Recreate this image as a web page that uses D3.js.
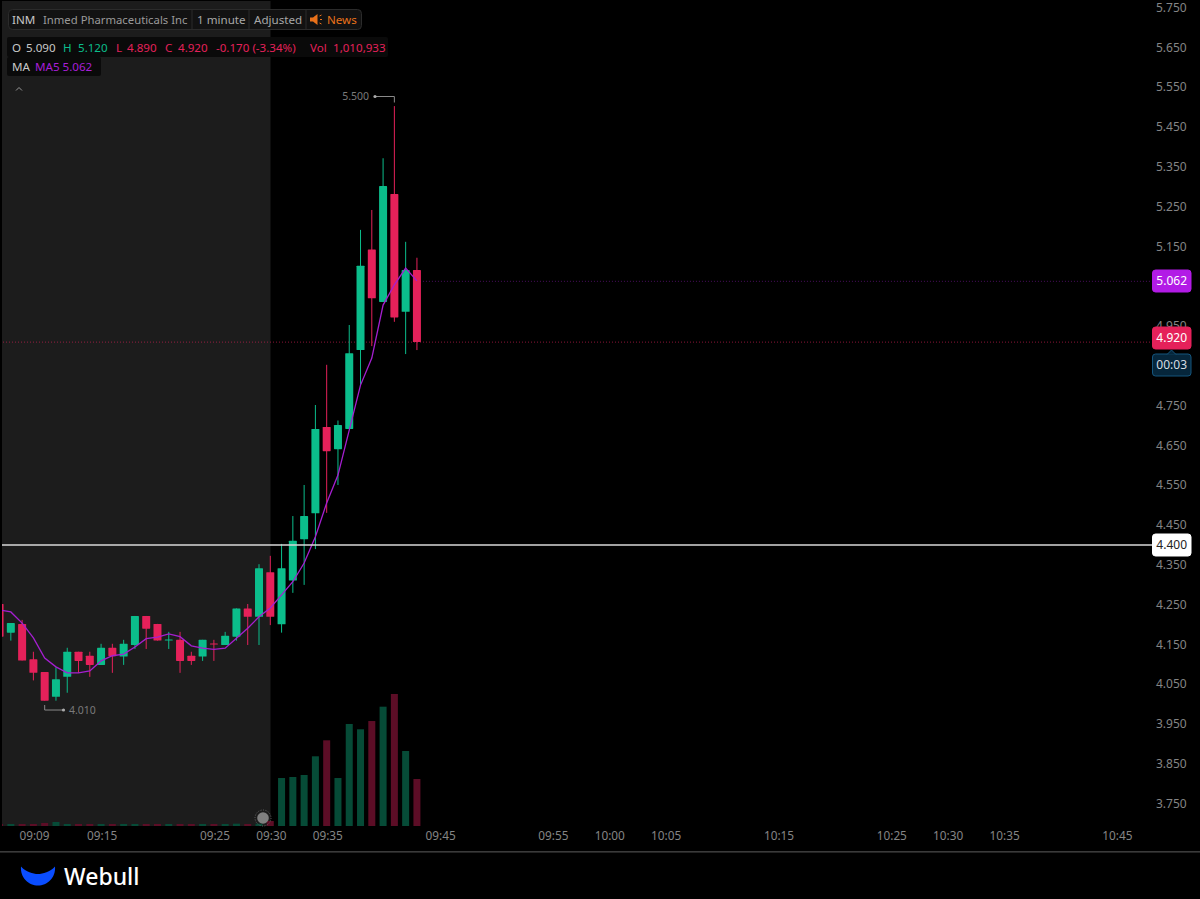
<!DOCTYPE html>
<html><head><meta charset="utf-8">
<script src="https://cdnjs.cloudflare.com/ajax/libs/d3/7.8.5/d3.min.js"></script>
<style>
html,body{margin:0;padding:0;background:#000;overflow:hidden}
svg{display:block}
text{font-family:"Noto Sans","Open Sans",sans-serif}
</style></head><body><svg id="c" width="1200" height="899"></svg>
<script>
// one-minute candles, first candle is 09:06
const firstMinute = 546;
const opens  = [4.250,4.178,4.200,4.111,4.079,4.017,4.067,4.130,4.120,4.097,4.140,4.118,4.147,4.220,4.200,4.158,4.160,4.120,4.118,4.151,4.147,4.168,4.239,4.218,4.330,4.199,4.309,4.413,4.478,4.695,4.639,4.690,4.888,5.141,5.009,5.280,4.984,5.089];
const highs  = [4.250,4.202,4.210,4.130,4.079,4.091,4.140,4.130,4.130,4.150,4.150,4.160,4.220,4.220,4.200,4.180,4.180,4.130,4.160,4.160,4.180,4.239,4.250,4.350,4.371,4.401,4.471,4.549,4.750,4.851,4.711,4.951,5.190,5.240,5.370,5.501,5.160,5.120];
const lows   = [4.168,4.158,4.108,4.058,4.007,4.007,4.027,4.077,4.067,4.097,4.077,4.097,4.137,4.137,4.158,4.137,4.077,4.097,4.107,4.107,4.147,4.158,4.147,4.147,4.197,4.178,4.278,4.298,4.388,4.479,4.549,4.690,4.800,4.898,5.009,4.959,4.878,4.888];
const closes = [4.168,4.202,4.108,4.077,4.007,4.061,4.130,4.107,4.097,4.140,4.119,4.150,4.220,4.188,4.158,4.161,4.107,4.107,4.160,4.148,4.170,4.239,4.218,4.340,4.218,4.340,4.409,4.471,4.690,4.634,4.700,4.880,5.100,5.018,5.300,4.970,5.089,4.908];
const ma5    = [4.235,4.230,4.202,4.165,4.114,4.092,4.077,4.077,4.082,4.107,4.120,4.124,4.142,4.163,4.167,4.175,4.168,4.145,4.139,4.136,4.139,4.164,4.189,4.218,4.240,4.273,4.306,4.353,4.419,4.504,4.574,4.687,4.800,4.868,5.001,5.052,5.094,5.062];
const volumes= [43000,43000,43000,43000,65000,86000,43000,43000,43000,43000,43000,43000,43000,43000,43000,43000,43000,43000,43000,43000,43000,50000,43000,50000,108000,1032000,1054000,1097000,1499000,1843000,1032000,2194000,2080000,2258000,2566000,2839000,1613000,1010933];
const timeLabels = ["09:09","09:15","09:25","09:30","09:35","09:45","09:55","10:00","10:05","10:15","10:25","10:30","10:35","10:45"];
const priceTicks = [5.75,5.65,5.55,5.45,5.35,5.25,5.15,4.95,4.75,4.65,4.55,4.45,4.35,4.25,4.15,4.05,3.95,3.85,3.75];
const lastPriceLine = 4.908, maLine = 5.062, crossPrice = 4.400;
const highMark = 5.500, lowMark = 4.010;

const GREEN="#0bbd8b", RED="#e5215a", VG="#064b37", VR="#5c0d26", PUR="#a51fd0";
const toMin = s => { const [h,m]=s.split(":").map(Number); return h*60+m; };
const x = d3.scaleLinear().domain([549,645]).range([33.4,1116.3]);
const y = d3.scaleLinear().domain([5.75,3.75]).range([7,803]);
const v = d3.scaleLinear().domain([0,d3.max(volumes)]).range([826,694]);
const svg = d3.select("#c");
const candles = opens.map((o,i)=>({m:firstMinute+i,o,h:highs[i],l:lows[i],c:closes[i],ma:ma5[i],vol:volumes[i],up:closes[i]>=o}));

svg.append("rect").attr("width",1200).attr("height",899).attr("fill","#000");
svg.append("rect").attr("x",2).attr("y",1).attr("width",268.5).attr("height",825).attr("fill","#1c1c1c");
svg.append("defs").append("clipPath").attr("id","plot").append("rect").attr("x",2).attr("y",0).attr("width",1148).attr("height",826);
const plot = svg.append("g").attr("clip-path","url(#plot)");

// volumes
plot.append("g").selectAll("rect").data(candles).join("rect")
  .attr("x",d=>x(d.m)-3.5).attr("width",7)
  .attr("y",d=>v(d.vol)).attr("height",d=>826-v(d.vol))
  .attr("fill",d=>d.up?VG:VR);

// price reference lines
plot.append("line").attr("x1",0).attr("x2",1150).attr("y1",y(lastPriceLine)).attr("y2",y(lastPriceLine))
  .attr("stroke","#e5215a").attr("stroke-opacity",.6).attr("stroke-dasharray","1 2");
plot.append("line").attr("x1",x(firstMinute+37)).attr("x2",1150).attr("y1",y(maLine)+.5).attr("y2",y(maLine)+.5)
  .attr("stroke",PUR).attr("stroke-opacity",.45).attr("stroke-dasharray","1 2");

// candles
const cg = plot.append("g").selectAll("g").data(candles).join("g");
cg.append("line").attr("x1",d=>x(d.m)).attr("x2",d=>x(d.m)).attr("y1",d=>y(d.h)).attr("y2",d=>y(d.l))
  .attr("stroke",d=>d.up?GREEN:RED).attr("stroke-width",1);
cg.append("rect").attr("x",d=>x(d.m)-4).attr("width",8)
  .attr("y",d=>y(Math.max(d.o,d.c)))
  .attr("height",d=>Math.max(1,Math.abs(y(d.o)-y(d.c))))
  .attr("rx",.6).attr("fill",d=>d.up?GREEN:RED);

// MA5
plot.append("path").datum(candles).attr("fill","none").attr("stroke",PUR).attr("stroke-width",1.3)
  .attr("d",d3.line().x(d=>x(d.m)).y(d=>y(d.ma)));

// crosshair
svg.append("line").attr("x1",2).attr("x2",1153).attr("y1",545).attr("y2",545).attr("stroke","#d8d8d8").attr("stroke-width",1.3);

// axes
const yAxis = svg.append("g").attr("transform","translate(1155,0.5)")
  .call(d3.axisRight(y).tickValues(priceTicks).tickSize(0).tickPadding(1).tickFormat(d3.format(".3f")));
yAxis.select(".domain").remove();
yAxis.selectAll("text").attr("fill","#858585").style("font-size","12px").style("font-family",'"Noto Sans"');
const xAxis = svg.append("g").attr("transform","translate(0.6,826)")
  .call(d3.axisBottom(x).tickValues(timeLabels.map(toMin)).tickSize(0).tickPadding(6)
    .tickFormat(m=>timeLabels[timeLabels.map(toMin).indexOf(m)]));
xAxis.select(".domain").remove();
xAxis.selectAll("text").attr("fill","#858585").style("font-size","11.8px").style("font-family",'"Noto Sans"');

// high / low annotations
const note = svg.append("g").attr("fill","none").attr("stroke","#8a8a8a");
const hx = x(firstMinute+35), lx = x(firstMinute+4);
note.append("path").attr("d",`M375 ${y(highMark)-10}H${hx}V${y(highMark)-4}`);
note.append("path").attr("d",`M${lx} ${y(lowMark)+5.5}V${y(lowMark)+10.5}H63`);
svg.append("circle").attr("cx",375).attr("cy",y(highMark)-10).attr("r",1.6).attr("fill","#aaa");
svg.append("circle").attr("cx",63.5).attr("cy",y(lowMark)+10.5).attr("r",1.6).attr("fill","#aaa");
svg.append("text").attr("x",369).attr("y",y(highMark)-6.3).attr("text-anchor","end").attr("fill","#7a7a7a").style("font-size","10.5px").text(d3.format(".3f")(highMark));
svg.append("text").attr("x",69).attr("y",y(lowMark)+14.3).attr("fill","#7a7a7a").style("font-size","10.5px").text(d3.format(".3f")(lowMark));

// open marker
svg.append("circle").attr("cx",263).attr("cy",818).attr("r",8).attr("fill","none").attr("stroke","#666").attr("stroke-dasharray","1 1.5");
svg.append("circle").attr("cx",263).attr("cy",818).attr("r",5.8).attr("fill","#808080");

// price tags
function tag(yc,fill,txt,tc,stroke){
  svg.append("rect").attr("x",1152.5).attr("y",yc-11).attr("width",38.5).attr("height",22).attr("rx",3).attr("fill",fill).attr("stroke",stroke||fill);
  svg.append("text").attr("x",1171.7).attr("y",yc+4.4).attr("text-anchor","middle").attr("fill",tc).style("font-size","12px").text(txt);
}
tag(281,"#b21be6","5.062","#fff");
tag(338,"#e5215a","4.920","#fff");
tag(365,"#06263b","00:03","#d6dde2","#14557d");
svg.append("path").attr("d","M1167 354.5L1171.5 350L1176 354.5").attr("fill","#06263b").attr("stroke","#14557d");
tag(545,"#ffffff","4.400","#222");

// header
function t(xp,yp,s,c,size){return svg.append("text").attr("x",xp).attr("y",yp).attr("fill",c).style("font-size",(size||11.6)+"px").text(s);}
svg.append("rect").attr("x",8.5).attr("y",9.5).attr("width",353).attr("height",20).attr("rx",4).attr("fill","#121212").attr("stroke","#2b2b2b");
[192,249,306].forEach(sx=>svg.append("line").attr("x1",sx).attr("x2",sx).attr("y1",10).attr("y2",29).attr("stroke","#2b2b2b"));
t(12,24,"INM","#c8c8c8");
t(43,24,"Inmed Pharmaceuticals Inc","#9a9a9a",11.3);
t(197,24,"1 minute","#a8a8a8");
t(254,24,"Adjusted","#a8a8a8");
svg.append("path").attr("d","M310 17.5h3l4.5-3.5v11l-4.5-3.5h-3z").attr("fill","#e8711a");
svg.append("path").attr("d","M319.5 16l2-1M320 19.5h2M319.5 23l2 1").attr("stroke","#e8711a").attr("fill","none");
t(327,24,"News","#e8711a");
svg.append("rect").attr("x",7).attr("y",37).attr("width",381).attr("height",20).attr("rx",2).attr("fill","#0a0a0a");
svg.append("rect").attr("x",7).attr("y",57).attr("width",94).attr("height",19).attr("rx",2).attr("fill","#0a0a0a");
t(12,52,"O","#c8c8c8"); t(26,52,"5.090","#c8c8c8");
t(63,52,"H",GREEN); t(78,52,"5.120",GREEN);
t(116,52,"L",RED); t(127,52,"4.890",RED);
t(165,52,"C",RED); t(178,52,"4.920",RED);
t(216,52,"-0.170 (-3.34%)",RED);
t(310,52,"Vol",RED); t(333,52,"1,010,933",RED);
t(12,71,"MA","#c8c8c8"); t(35,71,"MA5 5.062","#a81fd8");
svg.append("path").attr("d","M16 90.5l3-3 3 3").attr("fill","none").attr("stroke","#999");

// footer
svg.append("rect").attr("x",0).attr("y",851).attr("width",1200).attr("height",1.6).attr("fill","#3a3a3a");
svg.append("path").attr("d","M21 866.5C26 872 33 874 38 874C43 874 50 872 55 866.5C56 878 47 885.5 38 885.5C29 885.5 20 878 21 866.5Z").attr("fill","#0a4dff");
svg.append("text").attr("x",64).attr("y",885).attr("fill","#fff").style("font-size","23px").style("font-weight","500").text("Webull");
</script></body></html>
